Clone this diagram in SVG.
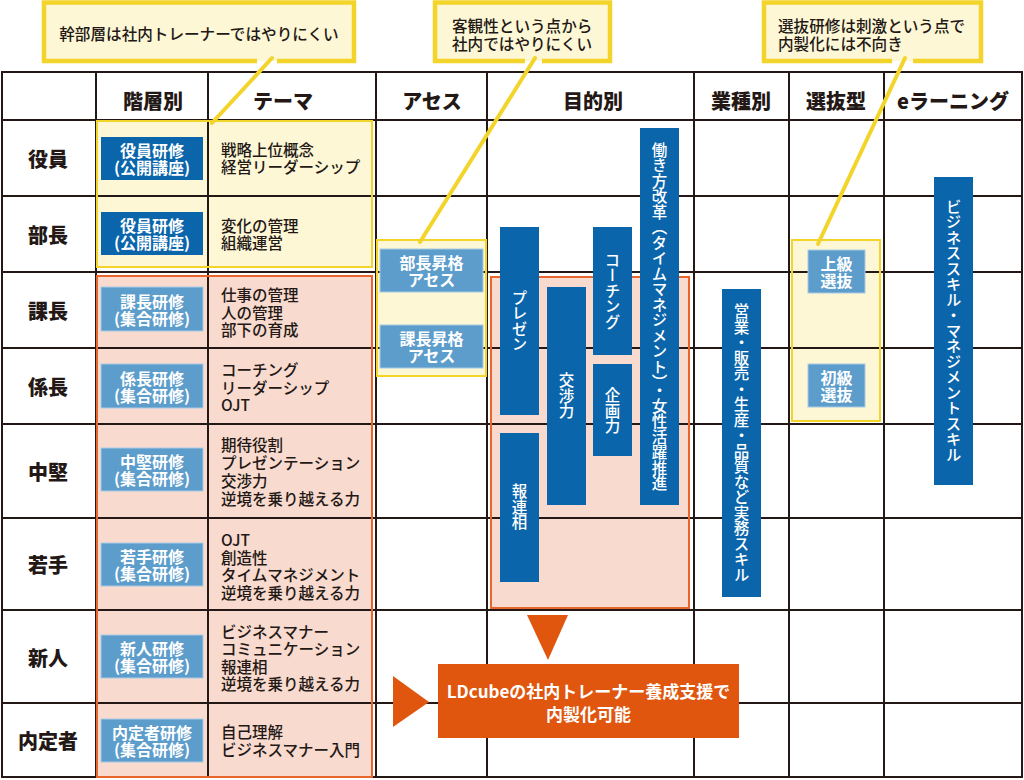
<svg xmlns="http://www.w3.org/2000/svg" width="1024" height="780" viewBox="0 0 1024 780">
<style>
text{font-family:"Noto Sans CJK JP","Noto Sans",sans-serif;}
.grid line{stroke:#231815;stroke-width:2;}
.hdr{font-size:20px;font-weight:900;fill:#231815;text-anchor:middle;dominant-baseline:central;}
.row{font-size:20px;font-weight:900;fill:#231815;text-anchor:middle;dominant-baseline:central;}
.theme{font-size:15.5px;font-weight:500;fill:#231815;dominant-baseline:central;}
.yfill{fill:#fdf7d5;}
.yline{fill:none;stroke:#f3d42a;stroke-width:2;}
.pfill{fill:#f8dace;}
.pline{fill:none;stroke:#e8662c;stroke-width:2;}
.dk{fill:#0a65ab;}
.lt{fill:#5c9dcb;stroke:#a9cbe6;stroke-width:1;}
.bt{font-size:16px;font-weight:bold;fill:#ffffff;text-anchor:middle;dominant-baseline:central;}
.vt{font-size:15.5px;font-weight:500;fill:#ffffff;text-anchor:middle;writing-mode:vertical-rl;}
.cbox{fill:#fdf7d5;}
.cline{fill:none;stroke:#f3d42a;stroke-width:4.5;}
.ctext{font-size:15.6px;font-weight:500;fill:#231815;dominant-baseline:central;}
.lead{stroke:#f3d42a;stroke-width:4;stroke-linecap:round;}
.arrow{fill:#e0560f;}
</style>
<rect x="0" y="0" width="1024" height="780" fill="#ffffff"/>

<g id="regions-fill">
<rect class="yfill" x="97" y="121" width="275" height="146"/>
<rect class="yfill" x="377" y="240" width="109" height="136"/>
<rect class="yfill" x="792" y="240" width="88" height="181"/>
<rect class="pfill" x="97" y="276" width="275" height="501"/>
<rect class="pfill" x="491" y="277" width="198" height="331"/>
</g>

<g id="grid" class="grid">
<line x1="1" y1="72" x2="1023" y2="72"/>
<line x1="1" y1="120" x2="1023" y2="120"/>
<line x1="1" y1="196" x2="1023" y2="196"/>
<line x1="1" y1="272" x2="1023" y2="272"/>
<line x1="1" y1="348" x2="1023" y2="348"/>
<line x1="1" y1="424" x2="1023" y2="424"/>
<line x1="1" y1="518" x2="1023" y2="518"/>
<line x1="1" y1="610" x2="1023" y2="610"/>
<line x1="1" y1="703" x2="1023" y2="703"/>
<line x1="1" y1="777" x2="1023" y2="777"/>
<line x1="2" y1="71" x2="2" y2="778"/>
<line x1="96" y1="71" x2="96" y2="778"/>
<line x1="208" y1="71" x2="208" y2="778"/>
<line x1="376" y1="71" x2="376" y2="778"/>
<line x1="487" y1="71" x2="487" y2="778"/>
<line x1="694" y1="71" x2="694" y2="778"/>
<line x1="789" y1="71" x2="789" y2="778"/>
<line x1="884" y1="71" x2="884" y2="778"/>
<line x1="1022" y1="71" x2="1022" y2="778"/>
</g>

<g id="regions-border">
<rect class="yline" x="97" y="121" width="275" height="146"/>
<rect class="yline" x="377" y="240" width="109" height="136"/>
<rect class="yline" x="792" y="240" width="88" height="181"/>
<rect class="pline" x="97" y="276" width="275" height="501"/>
<rect class="pline" x="491" y="277" width="198" height="331"/>
</g>

<g id="headers">
<text class="hdr" x="153" y="100">階層別</text>
<text class="hdr" x="283" y="100">テーマ</text>
<text class="hdr" x="432" y="100">アセス</text>
<text class="hdr" x="593" y="100">目的別</text>
<text class="hdr" x="741" y="100">業種別</text>
<text class="hdr" x="836" y="100">選抜型</text>
<text class="hdr" x="953" y="100">eラーニング</text>
</g>

<g id="row-labels">
<text class="row" x="48" y="158">役員</text>
<text class="row" x="48" y="234">部長</text>
<text class="row" x="48" y="310">課長</text>
<text class="row" x="48" y="386">係長</text>
<text class="row" x="48" y="471">中堅</text>
<text class="row" x="48" y="564">若手</text>
<text class="row" x="48" y="657">新人</text>
<text class="row" x="48" y="740">内定者</text>
</g>

<g id="level-yakuin">
<rect class="dk" x="101" y="137" width="102" height="43"/>
<text class="bt"><tspan x="152" y="150">役員研修</tspan><tspan x="152" y="167">(公開講座)</tspan></text>
<text class="theme"><tspan x="221" y="149">戦略上位概念</tspan><tspan x="221" y="166">経営リーダーシップ</tspan></text>
</g>
<g id="level-bucho">
<rect class="dk" x="101" y="212" width="102" height="43"/>
<text class="bt"><tspan x="152" y="225">役員研修</tspan><tspan x="152" y="242">(公開講座)</tspan></text>
<text class="theme"><tspan x="221" y="224.5">変化の管理</tspan><tspan x="221" y="241.5">組織運営</tspan></text>
</g>
<g id="level-kacho">
<rect class="lt" x="101" y="287" width="102" height="44"/>
<text class="bt"><tspan x="152" y="300.5">課長研修</tspan><tspan x="152" y="317.5">(集合研修)</tspan></text>
<text class="theme"><tspan x="221" y="294">仕事の管理</tspan><tspan x="221" y="311.5">人の管理</tspan><tspan x="221" y="329">部下の育成</tspan></text>
</g>
<g id="level-kakaricho">
<rect class="lt" x="101" y="364" width="102" height="44"/>
<text class="bt"><tspan x="152" y="377.5">係長研修</tspan><tspan x="152" y="394.5">(集合研修)</tspan></text>
<text class="theme"><tspan x="221" y="369">コーチング</tspan><tspan x="221" y="386.5">リーダーシップ</tspan><tspan x="221" y="404">OJT</tspan></text>
</g>
<g id="level-chuken">
<rect class="lt" x="101" y="448" width="102" height="43"/>
<text class="bt"><tspan x="152" y="461">中堅研修</tspan><tspan x="152" y="478">(集合研修)</tspan></text>
<text class="theme"><tspan x="221" y="444">期待役割</tspan><tspan x="221" y="462">プレゼンテーション</tspan><tspan x="221" y="480">交渉力</tspan><tspan x="221" y="498">逆境を乗り越える力</tspan></text>
</g>
<g id="level-wakate">
<rect class="lt" x="101" y="543" width="102" height="43"/>
<text class="bt"><tspan x="152" y="556">若手研修</tspan><tspan x="152" y="573">(集合研修)</tspan></text>
<text class="theme"><tspan x="221" y="539">OJT</tspan><tspan x="221" y="556.5">創造性</tspan><tspan x="221" y="574">タイムマネジメント</tspan><tspan x="221" y="591.5">逆境を乗り越える力</tspan></text>
</g>
<g id="level-shinjin">
<rect class="lt" x="101" y="635" width="102" height="43"/>
<text class="bt"><tspan x="152" y="648">新人研修</tspan><tspan x="152" y="665">(集合研修)</tspan></text>
<text class="theme"><tspan x="221" y="630.5">ビジネスマナー</tspan><tspan x="221" y="648">コミュニケーション</tspan><tspan x="221" y="665.5">報連相</tspan><tspan x="221" y="683">逆境を乗り越える力</tspan></text>
</g>
<g id="level-naiteisha">
<rect class="lt" x="101" y="719" width="102" height="43"/>
<text class="bt"><tspan x="152" y="732">内定者研修</tspan><tspan x="152" y="749">(集合研修)</tspan></text>
<text class="theme"><tspan x="221" y="731">自己理解</tspan><tspan x="221" y="748.5">ビジネスマナー入門</tspan></text>
</g>

<g id="assess-bucho">
<rect class="lt" x="380" y="249" width="103" height="43"/>
<text class="bt"><tspan x="431.5" y="262">部長昇格</tspan><tspan x="431.5" y="279">アセス</tspan></text>
</g>
<g id="assess-kacho">
<rect class="lt" x="380" y="325" width="103" height="43"/>
<text class="bt"><tspan x="431.5" y="338">課長昇格</tspan><tspan x="431.5" y="355">アセス</tspan></text>
</g>

<g id="purpose-presen">
<rect class="dk" x="500" y="227" width="39" height="188"/>
<text class="vt" x="519.5" y="321">プレゼン</text>
</g>
<g id="purpose-horenso">
<rect class="dk" x="500" y="433" width="39" height="149"/>
<text class="vt" x="519.5" y="507">報連相</text>
</g>
<g id="purpose-kosho">
<rect class="dk" x="547" y="287" width="39" height="218"/>
<text class="vt" x="566.5" y="396">交渉力</text>
</g>
<g id="purpose-coaching">
<rect class="dk" x="593" y="227" width="39" height="128"/>
<text class="vt" x="612.5" y="291">コーチング</text>
</g>
<g id="purpose-kikaku">
<rect class="dk" x="593" y="364" width="39" height="92"/>
<text class="vt" x="612.5" y="411">企画力</text>
</g>
<g id="purpose-hatarakikata">
<rect class="dk" x="640" y="128" width="39" height="377"/>
<text class="vt" x="659.5" y="316.5">働き方改革（タイムマネジメント）・女性活躍推進</text>
</g>

<g id="industry">
<rect class="dk" x="722" y="289" width="39" height="308"/>
<text class="vt" x="741.5" y="443">営業・販売・生産・品質など実務スキル</text>
</g>

<g id="select-upper">
<rect class="lt" x="808" y="250" width="57" height="43"/>
<text class="bt"><tspan x="836.5" y="263">上級</tspan><tspan x="836.5" y="280">選抜</tspan></text>
</g>
<g id="select-lower">
<rect class="lt" x="808" y="364" width="57" height="43"/>
<text class="bt"><tspan x="836.5" y="377">初級</tspan><tspan x="836.5" y="394">選抜</tspan></text>
</g>

<g id="elearning">
<rect class="dk" x="934" y="177" width="39" height="308"/>
<text class="vt" x="953.5" y="331">ビジネススキル・マネジメントスキル</text>
</g>

<g id="callout-1">
<rect class="cbox" x="44" y="2.5" width="310" height="58.5"/>
<path class="cline" d="M277,61 H354 V2.5 H44 V61 H257"/>
<text class="ctext" x="199" y="33" text-anchor="middle">幹部層は社内トレーナーではやりにくい</text>
</g>
<g id="callout-2">
<rect class="cbox" x="435" y="2.5" width="175" height="58.5"/>
<path class="cline" d="M542,61 H610 V2.5 H435 V61 H525"/>
<text class="ctext"><tspan x="452" y="25">客観性という点から</tspan><tspan x="452" y="43">社内ではやりにくい</tspan></text>
</g>
<g id="callout-3">
<rect class="cbox" x="764" y="2.5" width="217" height="58.5"/>
<path class="cline" d="M913,61 H981 V2.5 H764 V61 H892"/>
<text class="ctext"><tspan x="778" y="25">選抜研修は刺激という点で</tspan><tspan x="778" y="43">内製化には不向き</tspan></text>
</g>

<g id="connectors">
<line class="lead" x1="272" y1="58" x2="212" y2="123"/>
<line class="lead" x1="535" y1="58" x2="420" y2="242"/>
<line class="lead" x1="905" y1="58" x2="818" y2="244"/>
<polygon class="arrow" points="527,615 568,615 548,660"/>
<polygon class="arrow" points="393,676 393,727 429,702"/>
</g>

<g id="result">
<rect x="438" y="664" width="301" height="74" fill="#e0560f"/>
<text font-size="17" font-weight="bold" fill="#ffffff" text-anchor="middle" dominant-baseline="central"><tspan x="588.5" y="690">LDcubeの社内トレーナー養成支援で</tspan><tspan x="588.5" y="713">内製化可能</tspan></text>
</g>
</svg>
